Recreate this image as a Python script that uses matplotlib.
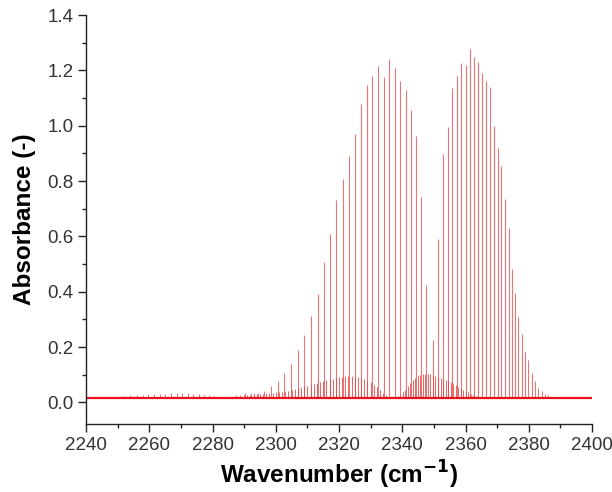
import matplotlib
matplotlib.use("Agg")
import matplotlib.pyplot as plt
from matplotlib.ticker import MultipleLocator

plt.rcParams['font.family'] = ['Liberation Sans', 'DejaVu Sans']

# ---- data ----
baseline = 0.015

# main fundamental band lines (P and R branches)
main_pos = [2285.5, 2287.3, 2288.7, 2290.3, 2292.1, 2293.2, 2294.4, 2296.3,
            2298.4, 2300.6, 2302.7, 2304.9, 2307.0, 2309.0, 2311.1, 2313.3,
            2315.3, 2317.3, 2319.1, 2321.2, 2323.1, 2325.0, 2326.9, 2328.8,
            2330.5, 2332.3, 2334.1, 2335.9, 2337.6, 2339.4, 2341.1, 2342.8,
            2344.35, 2345.84, 2347.51, 2349.82,
            2351.40, 2352.89, 2354.37, 2355.83, 2357.31, 2358.67, 2360.06,
            2361.52, 2362.78, 2364.05, 2365.31, 2366.58, 2367.75, 2369.01,
            2370.18, 2371.32, 2372.58, 2373.66, 2374.61, 2375.65, 2376.70,
            2377.77, 2378.81, 2379.86, 2380.93, 2381.98, 2383.02, 2384.10,
            2385.14, 2386.18, 2387.2, 2388.3]
main_abs = [0.020, 0.025, 0.028, 0.035, 0.035, 0.035, 0.035, 0.040,
            0.058, 0.079, 0.106, 0.139, 0.190, 0.242, 0.311, 0.393,
            0.508, 0.610, 0.733, 0.806, 0.890, 0.970, 1.078, 1.147,
            1.180, 1.215, 1.175, 1.242, 1.207, 1.162, 1.128, 1.057,
            0.961, 0.741, 0.426, 0.224,
            0.592, 0.898, 0.996, 1.136, 1.180, 1.227, 1.219,
            1.278, 1.250, 1.230, 1.191, 1.161, 1.141, 0.999,
            0.919, 0.854, 0.735, 0.631, 0.482, 0.397, 0.307,
            0.248, 0.183, 0.153, 0.106, 0.076, 0.052, 0.040,
            0.032, 0.025, 0.021, 0.018]

# weak band near 2250-2282
weak_pos = [2250.2, 2252.0, 2253.9, 2256.0, 2257.9, 2259.7, 2261.6, 2263.4,
            2265.0, 2266.9, 2268.7, 2270.5, 2272.2, 2273.9, 2275.7, 2277.4,
            2279.0, 2280.6]
weak_abs = [0.020, 0.022, 0.025, 0.025, 0.028, 0.031, 0.031, 0.032,
            0.032, 0.035, 0.035, 0.035, 0.035, 0.032, 0.031, 0.028,
            0.026, 0.023]

# dense hot-band lines (two envelopes)
hot_pos = [2290.0, 2291.0, 2292.0, 2293.0, 2294.0, 2295.0, 2296.0, 2297.0,
           2298.0, 2299.0, 2300.0, 2301.0, 2302.0, 2303.0, 2304.0, 2305.0,
           2306.0, 2307.0, 2308.0, 2309.0, 2310.0, 2311.0, 2312.0, 2313.0,
           2314.0, 2315.0, 2316.0, 2317.0, 2318.0, 2319.0, 2320.0, 2321.0,
           2322.0, 2323.0, 2324.0, 2325.0, 2326.0, 2327.0, 2328.0, 2329.0,
           2330.0, 2331.0, 2332.0, 2333.0, 2334.0, 2335.0,
           2338.5, 2339.3, 2340.1, 2340.9, 2341.7, 2342.5, 2343.3, 2344.1,
           2344.9, 2345.7, 2346.5, 2347.3, 2348.1, 2348.9, 2349.7, 2350.5,
           2351.3, 2352.1, 2352.9, 2353.7, 2354.5, 2355.3, 2356.1, 2356.9,
           2357.7, 2358.5, 2359.3, 2360.1, 2360.9, 2361.7, 2362.5, 2363.3,
           2364.1, 2364.9]
hot_abs = [0.025, 0.026, 0.027, 0.028, 0.030, 0.031, 0.032, 0.033,
           0.034, 0.035, 0.036, 0.037, 0.039, 0.041, 0.043, 0.046,
           0.049, 0.052, 0.055, 0.058, 0.061, 0.064, 0.067, 0.070,
           0.073, 0.077, 0.080, 0.083, 0.086, 0.089, 0.091, 0.093,
           0.095, 0.096, 0.096, 0.095, 0.093, 0.090, 0.085, 0.079,
           0.072, 0.063, 0.054, 0.045, 0.035, 0.026,
           0.022, 0.028, 0.036, 0.046, 0.058, 0.070, 0.080, 0.088,
           0.094, 0.098, 0.101, 0.102, 0.102, 0.101, 0.099, 0.096,
           0.093, 0.089, 0.085, 0.081, 0.077, 0.072, 0.067, 0.062,
           0.057, 0.052, 0.046, 0.041, 0.036, 0.031, 0.027, 0.023,
           0.020, 0.018]

x_label = 'Wavenumber (cm$^{\\mathbf{-1}}$)'
y_label = 'Absorbance (-)'
x_range = (2240, 2400)
y_range = (-0.078, 1.4)

# ---- figure ----
fig = plt.figure(figsize=(6.12, 4.92), dpi=100)
ax = fig.add_axes([86 / 612, 1 - 424 / 492, (592 - 86) / 612, (424 - 15) / 492])

ax.vlines(weak_pos, baseline, weak_abs, color='#e03030', lw=0.7, alpha=0.7)
ax.vlines(hot_pos, baseline, hot_abs, color='#e03030', lw=0.7, alpha=0.75)
ax.vlines(main_pos, baseline, main_abs, color='#e04848', lw=0.8, alpha=0.75)
ax.axhline(baseline, color='#e8101a', lw=1.6)

ax.set_xlim(*x_range)
ax.set_ylim(*y_range)
ax.xaxis.set_major_locator(MultipleLocator(20))
ax.xaxis.set_minor_locator(MultipleLocator(10))
ax.yaxis.set_major_locator(MultipleLocator(0.2))
ax.yaxis.set_minor_locator(MultipleLocator(0.1))
ax.yaxis.set_major_formatter(matplotlib.ticker.FormatStrFormatter('%.1f'))

for s in ['top', 'right']:
    ax.spines[s].set_visible(False)
for s in ['left', 'bottom']:
    ax.spines[s].set_linewidth(1.0)
    ax.spines[s].set_color('#222222')

ax.tick_params(which='major', direction='out', length=6, width=1.0,
               labelsize=13.5, colors='#222222', labelcolor='#333333', pad=3)
ax.tick_params(which='minor', direction='out', length=3, width=1.0,
               colors='#222222')

ax.set_xlabel(x_label, fontsize=17.5, fontweight='bold', labelpad=4)
ax.set_ylabel(y_label, fontsize=17.5, fontweight='bold', labelpad=8)

fig.savefig('out.png', dpi=100)
